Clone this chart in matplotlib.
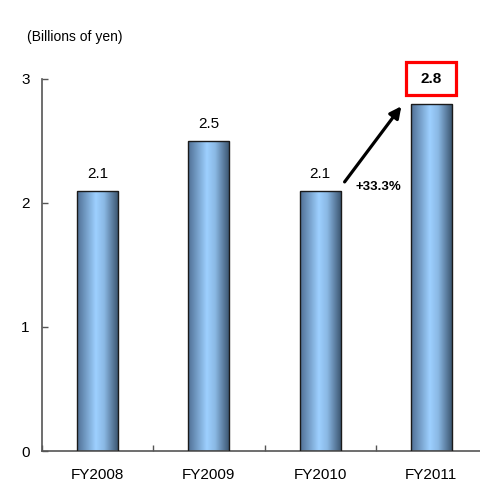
import numpy as np
import matplotlib
matplotlib.use('Agg')
import matplotlib.pyplot as plt
from matplotlib.colors import LinearSegmentedColormap
from matplotlib.patches import Rectangle

plt.rcParams['font.family'] = ['Liberation Sans', 'DejaVu Sans']

# Datos
anios = ['FY2008', 'FY2009', 'FY2010', 'FY2011']
valores = [2.1, 2.5, 2.1, 2.8]
etiquetas = ['2.1', '2.5', '2.1', '2.8']
crecimiento = '+33.3%'
yticks = [0, 1, 2, 3]

# Degradado horizontal de las barras
cmap_barra = LinearSegmentedColormap.from_list(
    'barra', [(0.0, '#4f6f94'), (0.45, '#9dd0ff'), (0.65, '#8ab8e4'), (1.0, '#37506a')])
gradiente = np.linspace(0, 1, 256).reshape(1, -1)

fig = plt.figure(figsize=(4.81, 4.86), dpi=100)
ax = fig.add_axes([42 / 481, 35 / 486, 445 / 481, 372 / 486])

ancho = 0.37
x = np.arange(len(anios))
for i, v in enumerate(valores):
    rect = Rectangle((x[i] - ancho / 2, 0), ancho, v, facecolor='none',
                     edgecolor='#1a1a1a', linewidth=1.0, zorder=3)
    ax.add_patch(rect)
    img = ax.imshow(gradiente, cmap=cmap_barra, aspect='auto',
                    extent=(x[i] - ancho / 2, x[i] + ancho / 2, 0, v), zorder=2)
    img.set_clip_path(rect)
    if i < len(valores) - 1:
        ax.text(x[i], v + 0.08, etiquetas[i], ha='center', va='bottom', fontsize=11)

# Etiqueta del último año en recuadro rojo
caja = Rectangle((x[-1] - 0.23, 2.87), 0.455, 0.265, facecolor='white',
                 edgecolor='#ff0000', linewidth=2.3, clip_on=False, zorder=4)
ax.add_patch(caja)
ax.text(x[-1] - 0.005, 3.0, etiquetas[-1], ha='center', va='center', fontsize=11,
        fontweight='bold', clip_on=False, zorder=5)

# Flecha de crecimiento
ax.annotate('', xy=(2.73, 2.78), xytext=(2.22, 2.17),
            arrowprops=dict(arrowstyle='-|>', color='black', lw=2.3,
                            mutation_scale=17, shrinkA=0, shrinkB=0))
ax.text(2.52, 2.13, crecimiento, ha='center', va='center', fontsize=9.5, fontweight='bold')

ax.set_xlim(-0.5, 3.5)
ax.set_ylim(0, 3)
ax.set_yticks(yticks)
ax.set_yticklabels([str(t) for t in yticks])
ax.set_xticks(x)
ax.set_xticklabels(anios)
ax.set_xticks(np.arange(-0.5, 4, 1), minor=True)

ax.tick_params(axis='y', direction='in', length=4.5, width=1, colors='#555555',
               labelcolor='black', labelsize=11, pad=9)
ax.tick_params(axis='x', which='major', length=0, labelsize=11, pad=12)
ax.tick_params(axis='x', which='minor', direction='in', length=4.5, width=1, colors='#555555')

for lado in ['top', 'right']:
    ax.spines[lado].set_visible(False)
for lado in ['left', 'bottom']:
    ax.spines[lado].set_color('#555555')
    ax.spines[lado].set_linewidth(1.2)

fig.text(27 / 481, 1 - 37 / 486, '(Billions of yen)', ha='left', va='center', fontsize=10)

plt.savefig('out.png', dpi=100)
